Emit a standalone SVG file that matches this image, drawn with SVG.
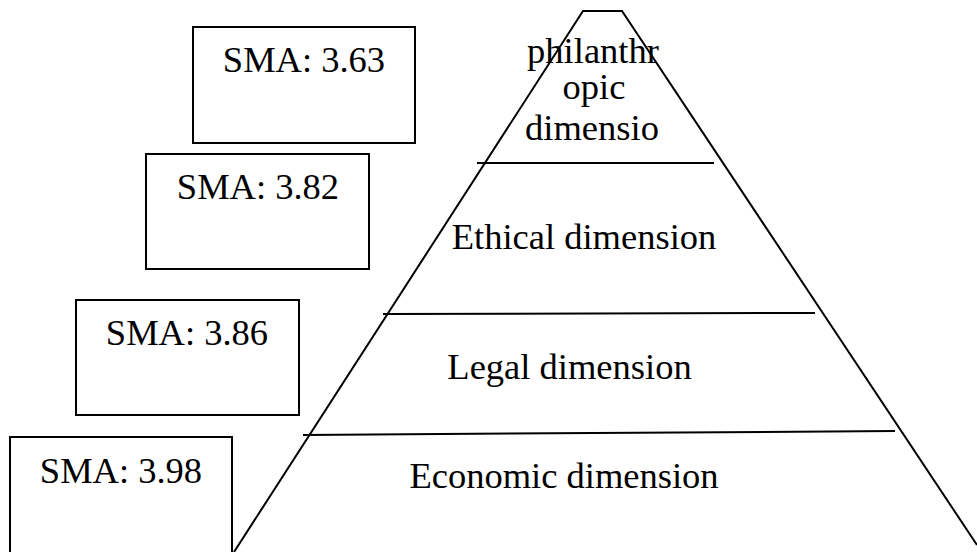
<svg xmlns="http://www.w3.org/2000/svg" width="977" height="552" viewBox="0 0 977 552">
<style>
.box{fill:none;stroke:#000;stroke-width:2}
.ln{fill:none;stroke:#000;stroke-width:2}
text{font-family:"Liberation Serif","Times New Roman",serif;font-size:36.5px;fill:#000;text-anchor:middle}
</style>
<rect width="977" height="552" fill="#fff"/>
<g id="pyramid">
<polyline class="ln" points="234,552 583,11 622,11 977,545"/>
<line class="ln" x1="477" y1="163" x2="714" y2="163"/>
<line class="ln" x1="383" y1="314" x2="815" y2="313"/>
<line class="ln" x1="303" y1="435" x2="895" y2="431"/>
</g>
<g id="philanthropic">
<text x="593" y="63">philanthr</text>
<text x="594" y="99">opic</text>
<text x="592" y="140">dimensio</text>
</g>
<g id="ethical"><text x="584" y="249">Ethical dimension</text></g>
<g id="legal"><text x="569.5" y="379">Legal dimension</text></g>
<g id="economic"><text x="564" y="488">Economic dimension</text></g>
<g id="sma363"><rect class="box" x="193" y="27" width="222" height="116"/><text x="304" y="72">SMA: 3.63</text></g>
<g id="sma382"><rect class="box" x="146" y="154" width="223" height="115"/><text x="258" y="199">SMA: 3.82</text></g>
<g id="sma386"><rect class="box" x="76" y="300" width="223" height="115"/><text x="187" y="345">SMA: 3.86</text></g>
<g id="sma398"><rect class="box" x="10" y="437" width="222" height="125"/><text x="121" y="483">SMA: 3.98</text></g>
</svg>
